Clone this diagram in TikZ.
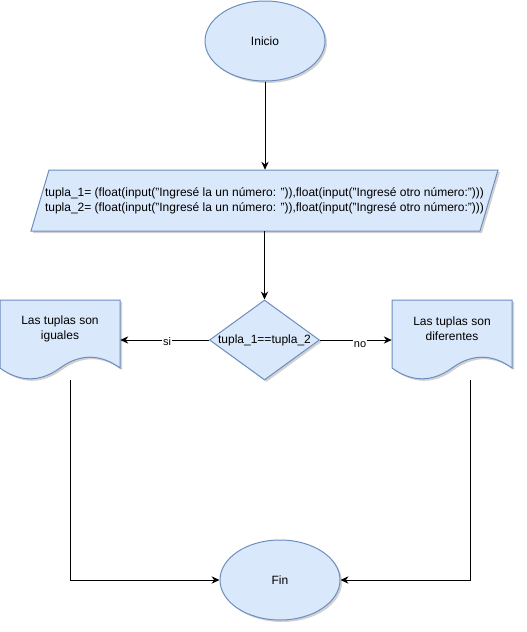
\documentclass[tikz,border=0pt]{standalone}
\usepackage{fontspec}
\setmainfont{Liberation Sans}
\usetikzlibrary{shapes.geometric,arrows.meta,shadows}
\definecolor{boxfill}{HTML}{DAE8FC}
\definecolor{boxdraw}{HTML}{6C8EBF}
\begin{document}
\begin{tikzpicture}[x=0.75pt,y=-0.75pt,
  blueshape/.style={draw=boxdraw, fill=boxfill, line width=0.75pt,
    drop shadow={shadow xshift=1.5pt, shadow yshift=-1.5pt, opacity=0.18, fill=black}},
  txt/.style={font=\fontsize{9pt}{11.25pt}\selectfont, text=black},
  term/.style={blueshape, ellipse, minimum width=90pt, minimum height=60pt, inner sep=0pt, txt},
  plainbox/.style={inner sep=0pt, txt, align=center},
  conn/.style={line width=0.75pt, -{Stealth[length=6pt, width=5.5pt, inset=2pt]}},
  lbl/.style={fill=white, inner sep=0.5pt, font=\fontsize{8.25pt}{10pt}\selectfont, anchor=base}
]
\useasboundingbox (0,0) rectangle (527,632);

% Inicio
\node[term] (inicio) at (265,41) {Inicio};

% input parallelogram
\draw[blueshape] (49,170) -- (498,170) -- (480,231) -- (31,231) -- cycle;
\node[plainbox, minimum width=336pt, minimum height=45.75pt] (input) at (264.5,200.5)
  {tupla\_1= (float(input("Ingresé la un número: ")),float(input("Ingresé otro número:")))\\
   tupla\_2= (float(input("Ingresé la un número: ")),float(input("Ingresé otro número:")))};

% decision
\node[blueshape, diamond, aspect=1.375, minimum width=82.5pt, minimum height=60pt, inner sep=0pt, txt] (cond) at (264.5,340) {tupla\_1==tupla\_2};

% left document
\draw[blueshape, shift={(0,300)}] (0,0) -- (120,0) -- (120,68)
  .. controls (100,53.6) and (80,53.6) .. (60,68)
  .. controls (40,82.4) and (20,82.4) .. (0,68) -- cycle;
\node[plainbox, minimum width=90pt] (ldoc) at (60,329) {Las tuplas son\\iguales};

% right document
\draw[blueshape, shift={(392,300)}] (0,0) -- (120,0) -- (120,68)
  .. controls (100,53.6) and (80,53.6) .. (60,68)
  .. controls (40,82.4) and (20,82.4) .. (0,68) -- cycle;
\node[plainbox, minimum width=90pt] (rdoc) at (452,329) {Las tuplas son\\diferentes};

% Fin
\node[term] (fin) at (280,580) {Fin};

\coordinate (lbot) at (70,380);
\coordinate (rbot) at (470,380);

% connectors
\draw[conn] (inicio.south) -- (inicio.south |- input.north);
\draw[conn] (input.south -| cond.north) -- (cond.north);
\draw[conn] (cond.west) -- (cond.west -| ldoc.east);
\draw[conn] (cond.east) -- (cond.east -| rdoc.west);
\draw[conn] (lbot) |- (fin.west);
\draw[conn] (rbot) |- (fin.east);

% edge labels
\node[lbl] (si) at (167,345.7) {si};
\node[lbl] (no) at (360,347) {no};
\end{tikzpicture}
\end{document}
